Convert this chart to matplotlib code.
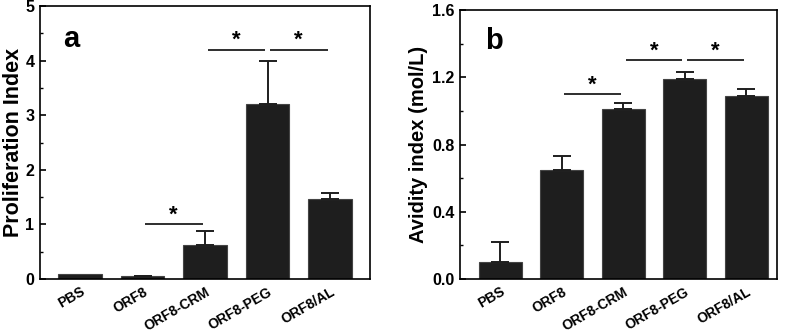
import numpy as np
import matplotlib.pyplot as plt
from matplotlib.ticker import MultipleLocator

plt.rcParams['font.family'] = ['Liberation Sans', 'DejaVu Sans']
plt.rcParams['font.weight'] = 'bold'

groups = ['PBS', 'ORF8', 'ORF8-CRM', 'ORF8-PEG', 'ORF8/AL']

# panel a: proliferation index
prolif = [0.10, 0.05, 0.63, 3.20, 1.47]
prolif_err = [0.0, 0.01, 0.25, 0.80, 0.11]
# significance bars: (from group, to group, height)
prolif_sig = [(1, 2, 1.0), (2, 3, 4.2), (3, 4, 4.2)]

# panel b: avidity index
avidity = [0.10, 0.65, 1.01, 1.19, 1.09]
avidity_err = [0.12, 0.08, 0.04, 0.04, 0.04]
avidity_sig = [(1, 2, 1.1), (2, 3, 1.3), (3, 4, 1.3)]

BAR = '#1e1e1e'

fig = plt.figure(figsize=(7.88, 3.35), dpi=100)
ax_a = fig.add_axes([0.0508, 0.167, 0.4188, 0.815])
ax_b = fig.add_axes([0.5838, 0.167, 0.4023, 0.803])


def draw(ax, vals, errs, sig, ylim, major, ylabel, ylsize, ylpad, letter, letter_xy, xlim, fmt, star_off):
    x = np.arange(1, len(vals) + 1)
    vals = np.asarray(vals)
    errs = np.asarray(errs)
    ax.bar(x, vals, width=0.7, color=BAR, edgecolor='#444444', linewidth=0.8, zorder=2)
    has = errs > 0
    ax.errorbar(x[has], vals[has], yerr=[np.zeros(has.sum()), errs[has]], fmt='none', ecolor=BAR,
                elinewidth=1.4, capsize=6.5, capthick=1.4, zorder=3)
    for i, j, h in sig:
        gap = 0.04
        ax.plot([x[i] + gap, x[j] - gap], [h, h], color=BAR, lw=1.3, solid_capstyle='butt')
        ax.text((x[i] + x[j]) / 2, h + star_off, '*', ha='center', va='center',
                fontsize=16, fontweight='bold')
    ax.set_xlim(*xlim)
    ax.set_ylim(*ylim)
    ax.yaxis.set_major_locator(MultipleLocator(major))
    ax.yaxis.set_minor_locator(MultipleLocator(major / 2))
    ax.yaxis.set_major_formatter(fmt)
    ax.tick_params(axis='y', which='major', direction='in', length=4, width=1.2,
                   labelsize=11.5, right=False, pad=4)
    ax.tick_params(axis='y', which='minor', direction='in', length=2.5, width=1.0, right=False)
    ax.tick_params(axis='x', length=0, labelsize=10, pad=4)
    ax.set_xticks(x)
    ax.set_xticklabels(groups, rotation=30, ha='right', va='top', rotation_mode='anchor',
                       fontweight='bold')
    for lab in ax.get_yticklabels():
        lab.set_fontweight('bold')
    for s in ax.spines.values():
        s.set_linewidth(1.2)
    ax.set_ylabel(ylabel, fontsize=ylsize, fontweight='bold', labelpad=ylpad)
    ax.text(letter_xy[0], letter_xy[1], letter, transform=ax.transAxes, fontsize=21,
            fontweight='bold', ha='left', va='center')


draw(ax_a, prolif, prolif_err, prolif_sig, (0, 5), 1, 'Proliferation Index', 15.5, 1, 'a',
     (0.07, 0.88), (0.36, 5.64), '{x:.0f}', 0.17)
draw(ax_b, avidity, avidity_err, avidity_sig, (0, 1.6), 0.4, 'Avidity index (mol/L)', 14.5, 3, 'b',
     (0.08, 0.885), (0.35, 5.5), '{x:.1f}', 0.055)

fig.savefig('out.png', dpi=100)
